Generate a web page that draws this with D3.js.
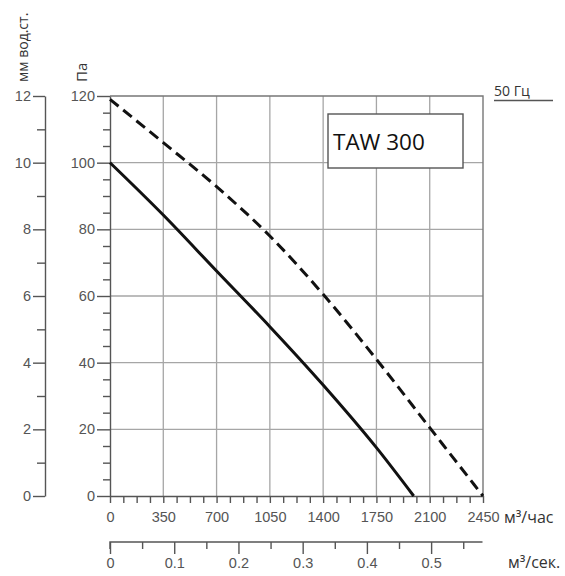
<!DOCTYPE html>
<html>
<head>
<meta charset="utf-8">
<script src="https://cdn.jsdelivr.net/npm/d3@7"></script>
<style>
	body { margin: 0; background: #fff; }
	svg { display: block; }
	.tick text { font-family: "Liberation Sans", Arial, sans-serif; font-size: 14.5px; fill: #555; }
	.unit { font-family: "Open Sans", sans-serif; font-size: 16px; fill: #333; }
</style>
</head>
<body>
<svg class="chart" width="565" height="576"></svg>
<script>
// air flow, m3/h
const solidFlow = [0, 350, 700, 1050, 1400, 1750, 1995];
const solidPa = [100, 84.3, 67.5, 50.8, 33.3, 14.5, 0];
const dashFlow = [0, 350, 700, 1050, 1400, 1750, 2100, 2450];
const dashPa = [119, 106, 92.8, 78, 60.5, 41, 20.5, 0];

const flowTicks = [0, 350, 700, 1050, 1400, 1750, 2100, 2450];
const paTicks = [0, 20, 40, 60, 80, 100, 120];
const mmTicks = [0, 2, 4, 6, 8, 10, 12];
const secTicks = [0, 0.1, 0.2, 0.3, 0.4, 0.5];

const modelName = "TAW 300";
const freqLabel = "50 Гц";

var margin = { top: 96, left: 110, right: 82, bottom: 80 },
	width = 565,
	height = 576;

var svg = d3.select(".chart");

let x = d3.scaleLinear().domain([0, 2450]).range([margin.left, width - margin.right]);
let y = d3.scaleLinear().domain([0, 120]).range([height - margin.bottom, margin.top]);
let yMm = d3.scaleLinear().domain([0, 12]).range([height - margin.bottom, margin.top]);
let xSec = d3.scaleLinear().domain([0, 0.58]).range([margin.left, x(2450) - 0.5]);

// grid
svg.append("g")
	.selectAll("line")
	.data(flowTicks.slice(1, -1))
	.join("line")
	.attr("x1", (d) => x(d)).attr("x2", (d) => x(d))
	.attr("y1", y(0)).attr("y2", y(120))
	.attr("stroke", "#a6a6a6").attr("stroke-width", 1.3);
svg.append("g")
	.selectAll("line")
	.data(paTicks.slice(1, -1))
	.join("line")
	.attr("x1", x(0)).attr("x2", x(2450))
	.attr("y1", (d) => y(d)).attr("y2", (d) => y(d))
	.attr("stroke", "#a6a6a6").attr("stroke-width", 1.3);
// top + right border
svg.append("path")
	.attr("d", `M${x(0)},${y(120)}H${x(2450)}V${y(0)}`)
	.attr("fill", "none").attr("stroke", "#777").attr("stroke-width", 1.4);

// Pa axis
svg.append("g")
	.attr("transform", `translate(${x(0)},0)`)
	.call(d3.axisLeft(y).tickValues(d3.range(5, 120, 10)).tickSize(7).tickSizeOuter(0).tickFormat(""))
	.call((g) => g.select(".domain").remove());
svg.append("g")
	.attr("transform", `translate(${x(0)},0)`)
	.call(d3.axisLeft(y).tickValues(paTicks.concat(d3.range(10, 120, 20))).tickSize(13).tickSizeOuter(0).tickPadding(2)
		.tickFormat((d) => (d % 20 === 0 ? d : "")))
	.call((g) => g.selectAll(".tick").filter((d) => d % 20 !== 0).select("line").attr("x2", -7));

// mm axis
svg.append("g")
	.attr("transform", "translate(45,0)")
	.call(d3.axisLeft(yMm).tickValues(d3.range(1, 12, 2)).tickSize(8).tickSizeOuter(0).tickFormat(""))
	.call((g) => g.select(".domain").remove());
svg.append("g")
	.attr("transform", "translate(45,0)")
	.call(d3.axisLeft(yMm).tickValues(mmTicks).tickSize(12).tickSizeOuter(0).tickPadding(2));

// flow axis m3/h
svg.append("g")
	.attr("transform", `translate(0,${y(0)})`)
	.call(d3.axisBottom(x).tickValues(d3.range(0, 2451, 87.5)).tickSize(7).tickSizeOuter(0).tickPadding(9)
		.tickFormat((d) => (d % 350 === 0 ? d : "")));

// flow axis m3/s
svg.append("g")
	.attr("transform", "translate(0,542)")
	.call(d3.axisBottom(xSec).tickValues(d3.range(0.05, 0.56, 0.1)).tickSize(7).tickSizeOuter(0).tickFormat(""))
	.call((g) => g.select(".domain").remove());
svg.append("g")
	.attr("transform", "translate(0,542)")
	.call(d3.axisBottom(xSec).tickValues(secTicks).tickSize(12).tickSizeOuter(0).tickPadding(4).tickFormat(d3.format("")))
	.call((g) => g.select(".domain").attr("d", `M${xSec(0)},7V0H${xSec(0.58)}`));

svg.selectAll(".domain, .tick line").attr("stroke", "#555").attr("stroke-width", 1.4);

// curves
let line = d3.line()
	.x((d) => x(d[0]))
	.y((d) => y(d[1]))
	.curve(d3.curveMonotoneX);

svg.append("path")
	.attr("d", line(d3.zip(dashFlow, dashPa)))
	.attr("fill", "none")
	.attr("stroke", "#111")
	.attr("stroke-width", 3)
	.attr("stroke-dasharray", "11 6");

svg.append("path")
	.attr("d", line(d3.zip(solidFlow, solidPa)))
	.attr("fill", "none")
	.attr("stroke", "#111")
	.attr("stroke-width", 3);

// model box
svg.append("rect")
	.attr("x", 328).attr("y", 114)
	.attr("width", 135).attr("height", 54)
	.attr("fill", "#fff").attr("stroke", "#555").attr("stroke-width", 1.4);
svg.append("text")
	.attr("x", 333).attr("y", 150)
	.style("font-family", "'Open Sans', sans-serif")
	.style("font-size", "22.5px")
	.attr("fill", "#111")
	.text(modelName);

// frequency label
svg.append("text")
	.attr("class", "unit")
	.attr("x", 494).attr("y", 96)
	.style("font-size", "14px")
	.text(freqLabel);
svg.append("line")
	.attr("x1", 494).attr("x2", 553).attr("y1", 100.5).attr("y2", 100.5)
	.attr("stroke", "#555").attr("stroke-width", 1.4);

// units
svg.append("text").attr("class", "unit").attr("x", 504).attr("y", 523).text("м³/час");
svg.append("text").attr("class", "unit").attr("x", 508).attr("y", 568).text("м³/сек.");

svg.append("text")
	.attr("class", "unit")
	.attr("transform", "translate(28,82) rotate(-90)")
	.style("font-size", "14px")
	.text("мм вод.ст.");
svg.append("text")
	.attr("class", "unit")
	.attr("transform", "translate(87,82) rotate(-90)")
	.style("font-size", "15px")
	.text("Па");
</script>
</body>
</html>
